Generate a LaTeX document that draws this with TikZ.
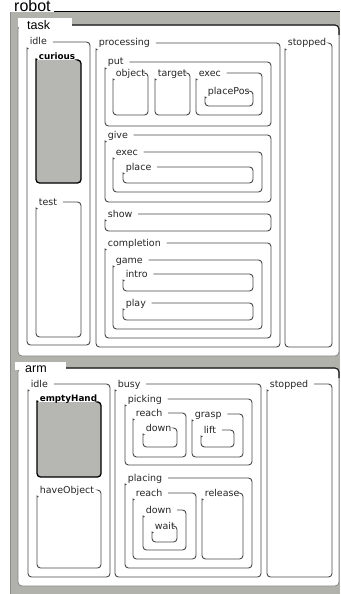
\documentclass[tikz,border=0pt]{standalone}
\usepackage{fontspec}
\setmainfont{DejaVu Sans}
\newfontfamily\titlefont{Liberation Sans}
\usetikzlibrary{calc}
\definecolor{bggray}{RGB}{178,178,172}
\definecolor{fillgray}{RGB}{182,182,178}
\definecolor{frameclr}{RGB}{72,72,72}
\tikzset{
  lbl/.style={anchor=base west, inner sep=0.6pt, font=\fontsize{9.5}{11}\selectfont, text=black!85},
  blbl/.style={anchor=base west, inner sep=0.6pt, font=\fontsize{8.8}{10}\selectfont\bfseries, text=black},
  frame/.style={draw=frameclr, line width=0.9pt, rounded corners=3.5pt},
  bframe/.style={draw=black, line width=1.3pt, rounded corners=3.5pt},
  ttl/.style={anchor=base west, inner sep=0pt, font=\titlefont\fontsize{12.5}{14}\selectfont},
  bigttl/.style={anchor=base west, inner sep=0pt, font=\titlefont\fontsize{16}{18}\selectfont},
  outerbox/.style={fill=white, draw=black!50, line width=0.7pt, rounded corners=4pt},
  topline/.style={draw=black!90, line width=1.1pt, rounded corners=4pt},
}
% #1 name, #2 label, #3 x1, #4 y of top line, #5 x2, #6 y bottom
\newcommand\stbox[6]{%
  \coordinate (#1-tl) at (#3,#4);
  \node[lbl] (#1) at (#3+2,#4+3) {#2};
  \draw[frame] let \p1=(#1.east), \n1={min(\x1+5pt, #5pt-3pt)} in
     (\n1,#4) -- (#5,#4) -- (#5,#6) -- (#3,#6) -- (#3,#4+9)
     .. controls (#3,#4+7) .. (#3+1.5,#4+6.5);
}
\newcommand\filledstate[6]{%
  \coordinate (#1-tl) at (#3,#4);
  \fill[fillgray, rounded corners=3pt] (#3,#4) rectangle (#5,#6);
  \node[blbl] (#1) at (#3+2,#4-0.5) {#2};
  \draw[bframe] (#5-2.5,#4) -- (#5,#4) -- (#5,#6) -- (#3,#6) -- (#3,#4+2)
     .. controls (#3,#4) .. (#3+1.5,#4-0.5);
}
\begin{document}
\begin{tikzpicture}[x=1pt,y=-1pt]
\useasboundingbox (0,0) rectangle (340,594);
\fill[white] (0,0) rectangle (340,594);
% robot
\fill[bggray] (10,12) rectangle (340,594);
\draw[black!45, line width=0.6pt] (10,594) -- (10,12);
\node[bigttl] (robot) at (14,11.5) {robot};
\coordinate (robot-end) at (340,11.5);
\draw[black, line width=1.2pt] ([xshift=3pt]robot.east |- robot-end) -- (robot-end);
% task
\draw[outerbox] (18,25) rectangle (339,356);
\fill[white] (18,18) rectangle (72,27);
\node[ttl] (task) at (27,29.5) {task};
\coordinate (task-end) at (339,25);
\draw[topline] (72,25) -- (task-end) -- ++(0,10);
\stbox{t-idle}{idle}{27}{42}{90}{345}
\stbox{t-proc}{processing}{96}{43}{280}{347}
\stbox{t-stop}{stopped}{285}{43}{332}{347}
\filledstate{curious}{curious}{36}{60}{81}{183}
\stbox{test}{test}{36}{202}{81}{337}
\stbox{put}{put}{105}{62}{271}{126}
\stbox{object}{object}{113}{73}{148}{115}
\stbox{target}{target}{155}{73}{190}{115}
\stbox{p-exec}{exec}{196}{73}{262}{115}
\stbox{placePos}{placePos}{205}{91}{253}{106}
\stbox{give}{give}{105}{135}{271}{202}
\stbox{g-exec}{exec}{113}{152}{262}{192}
\stbox{place}{place}{123}{167}{253}{183}
\stbox{show}{show}{105}{214}{271}{231}
\stbox{completion}{completion}{105}{243}{271}{338}
\stbox{game}{game}{113}{260}{262}{329}
\stbox{intro}{intro}{123}{274}{253}{291}
\stbox{play}{play}{123}{303}{253}{320}
% arm
\draw[outerbox] (18,368) rectangle (339,586);
\fill[white] (15,362) rectangle (66,370);
\node[ttl] (arm) at (25,372.5) {arm};
\coordinate (arm-end) at (339,368);
\draw[topline] (66,368) -- (arm-end) -- ++(0,10);
\stbox{a-idle}{idle}{28}{384}{110}{577}
\stbox{busy}{busy}{115}{384}{261}{577}
\stbox{a-stop}{stopped}{267}{384}{332}{577}
\filledstate{emptyHand}{emptyHand}{37}{402}{101}{477}
\stbox{haveObject}{haveObject}{37}{490}{101}{568}
\stbox{picking}{picking}{125}{399}{252}{465}
\stbox{pk-reach}{reach}{133}{413}{186}{457}
\stbox{pk-down}{down}{143}{428}{177}{447}
\stbox{grasp}{grasp}{192}{414}{243}{457}
\stbox{lift}{lift}{201}{430}{234}{447}
\stbox{placing}{placing}{125}{478}{252}{568}
\stbox{pl-reach}{reach}{133}{493}{196}{559}
\stbox{pl-down}{down}{143}{510}{186}{550}
\stbox{wait}{wait}{152}{526}{177}{542}
\stbox{release}{release}{202}{493}{243}{559}
\end{tikzpicture}
\end{document}
